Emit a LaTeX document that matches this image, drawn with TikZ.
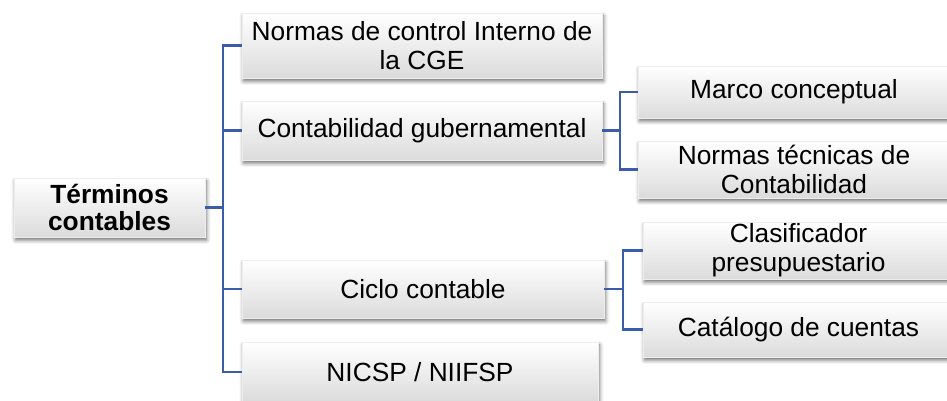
\documentclass[tikz,border=0pt]{standalone}
\usepackage{fontspec}
\setmainfont{Liberation Sans}
\usetikzlibrary{shadows,shadows.blur}
\definecolor{linkblue}{RGB}{58,92,170}
\tikzset{
  term/.style={rectangle,draw=black!7,top color=white,bottom color=black!14,
    blur shadow={shadow xshift=1.5bp,shadow yshift=-3bp,shadow blur radius=4bp,shadow opacity=60},
    align=center,inner sep=0pt,font=\fontsize{26.3bp}{29bp}\selectfont},
  termbold/.style={term,font=\fontsize{26.3bp}{27bp}\selectfont\bfseries},
  link/.style={draw=linkblue,line width=2.6bp},
}
\begin{document}
\begin{tikzpicture}[>=latex,line join=miter,]
    %%
    \clip (0bp,0bp) rectangle (947bp,401bp);
    \node (0) at (109.5bp,193.5bp) [termbold,minimum width=191bp,minimum height=59bp] {Términos\\contables};
    \node (1) at (422bp,355.5bp) [term,minimum width=360bp,minimum height=65bp] {Normas de control Interno de\\la CGE};
    \node (2) at (422bp,270.5bp) [term,minimum width=360bp,minimum height=59bp] {Contabilidad gubernamental};
    \node (3) at (423bp,112bp) [term,minimum width=362bp,minimum height=58bp] {Ciclo contable};
    \node (4) at (420bp,29bp) [term,minimum width=356bp,minimum height=60bp] {NICSP / NIIFSP};
    \node (21) at (794bp,309bp) [term,minimum width=312bp,minimum height=52bp] {Marco conceptual};
    \node (22) at (794bp,231.5bp) [term,minimum width=312bp,minimum height=57bp] {Normas técnicas de\\Contabilidad};
    \node (31) at (798.5bp,150.5bp) [term,minimum width=311bp,minimum height=57bp] {Clasificador\\presupuestario};
    \node (32) at (798.5bp,71.5bp) [term,minimum width=311bp,minimum height=55bp] {Catálogo de cuentas};
    %
    \coordinate (j0) at (223bp,193.5bp);
    \coordinate (j2) at (620bp,270.5bp);
    \coordinate (j3) at (623bp,112bp);
    \draw [link] (0) -- (j0);
    \draw [link] (j0) |- (1);
    \draw [link] (j0) |- (2);
    \draw [link] (j0) |- (3);
    \draw [link] (j0) |- (4);
    \draw [link] (2) -- (j2);
    \draw [link] (j2) |- (21);
    \draw [link] (j2) |- (22);
    \draw [link] (3) -- (j3);
    \draw [link] (j3) |- (31);
    \draw [link] (j3) |- (32);
    %
\end{tikzpicture}
\end{document}
